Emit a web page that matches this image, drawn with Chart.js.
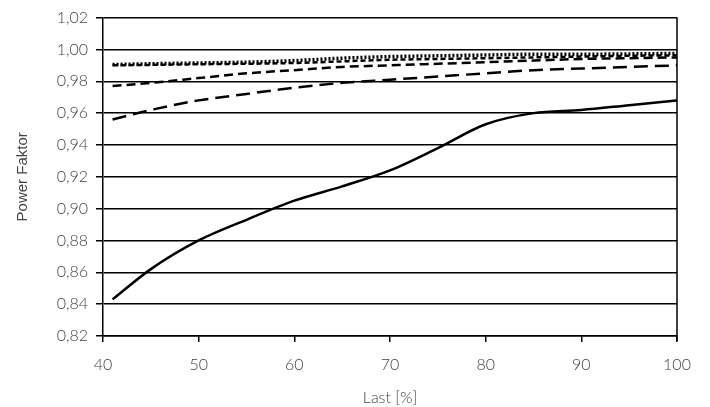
<!DOCTYPE html>
<html>
<head>
<meta charset="utf-8">
<script src="https://cdn.jsdelivr.net/npm/chart.js@4/dist/chart.umd.min.js"></script>
<style>
  html, body { margin: 0; padding: 0; background: #fff; }
  #wrap { width: 710px; height: 407px; }
</style>
</head>
<body>
<div id="wrap"><canvas id="pf"></canvas></div>
<script>
const loads = [41, 45, 50, 55, 60, 65, 70, 75, 80, 85, 90, 95, 100];
const solidPf = [0.843, 0.862, 0.880, 0.893, 0.905, 0.914, 0.924, 0.938, 0.953, 0.960, 0.962, 0.965, 0.968];
const longDashPf = [0.956, 0.962, 0.968, 0.972, 0.976, 0.979, 0.981, 0.983, 0.985, 0.987, 0.988, 0.989, 0.990];
const midDashPf = [0.977, 0.979, 0.982, 0.985, 0.987, 0.989, 0.990, 0.991, 0.992, 0.993, 0.994, 0.9945, 0.995];
const shortDashPf = [0.990, 0.9903, 0.9907, 0.991, 0.9915, 0.9925, 0.9935, 0.994, 0.9945, 0.995, 0.9955, 0.996, 0.9963];
const dottedPf = [0.9905, 0.991, 0.9915, 0.992, 0.993, 0.9945, 0.9955, 0.996, 0.9965, 0.997, 0.997, 0.9972, 0.9975];
const yTicks = [0.82, 0.84, 0.86, 0.88, 0.90, 0.92, 0.94, 0.96, 0.98, 1.00, 1.02];

function series(vals, dash, width) {
  return {
    data: loads.map((x, i) => ({ x: x, y: vals[i] })),
    borderColor: "#000",
    borderWidth: width,
    borderDash: dash,
    pointRadius: 0,
    fill: false,
    cubicInterpolationMode: "monotone",
  };
}

// right border of the plot box
const boxBorder = {
  id: "boxBorder",
  afterDraw(chart) {
    const a = chart.chartArea;
    const ctx = chart.ctx;
    ctx.save();
    ctx.strokeStyle = "#000";
    ctx.lineWidth = 1.5;
    ctx.beginPath();
    ctx.moveTo(a.right, a.top);
    ctx.lineTo(a.right, a.bottom + 5);
    ctx.stroke();
    ctx.restore();
  },
};

const ctx = document.getElementById("pf").getContext("2d");
new Chart(ctx, {
  type: "line",
  data: {
    datasets: [
      series(solidPf, [], 2.5),
      series(longDashPf, [14, 7], 2.5),
      series(midDashPf, [9, 5], 2.5),
      series(shortDashPf, [5, 3], 2.5),
      series(dottedPf, [2, 2], 3.5),
    ],
  },
  options: {
    responsive: true,
    maintainAspectRatio: false,
    animation: false,
    layout: { padding: { top: 16, right: 33, left: 0, bottom: 0 } },
    plugins: { legend: { display: false }, tooltip: { enabled: false } },
    scales: {
      x: {
        type: "linear",
        min: 40,
        max: 100,
        afterFit: (s) => { s.height = 71; },
        ticks: {
          stepSize: 10,
          color: "#444",
          padding: 13,
          font: { family: "Lato", size: 16, weight: 300 },
        },
        grid: { drawOnChartArea: false, drawTicks: true, tickLength: 6, color: "#000", lineWidth: 1.5 },
        border: { color: "#000", width: 1.5 },
        title: {
          display: true,
          text: "Last [%]",
          color: "#444",
          font: { family: "Lato", size: 16, weight: 300 },
          padding: { top: 1, bottom: 0 },
        },
      },
      y: {
        min: 0.82,
        max: 1.02,
        afterFit: (s) => { s.width = 103; },
        afterBuildTicks: (s) => { s.ticks = yTicks.map((v) => ({ value: v })); },
        ticks: {
          color: "#444",
          padding: 8,
          font: { family: "Lato", size: 16, weight: 300 },
          callback: (v) => Number(v).toFixed(2).replace(".", ","),
        },
        grid: { color: "#000", lineWidth: 1.5, tickLength: 7 },
        border: { color: "#000", width: 1.5 },
        title: {
          display: true,
          text: "Power Faktor",
          color: "#444",
          font: { family: "Liberation Sans", size: 15 },
          padding: { top: 14, bottom: 0 },
        },
      },
    },
  },
  plugins: [boxBorder],
});
</script>
</body>
</html>
